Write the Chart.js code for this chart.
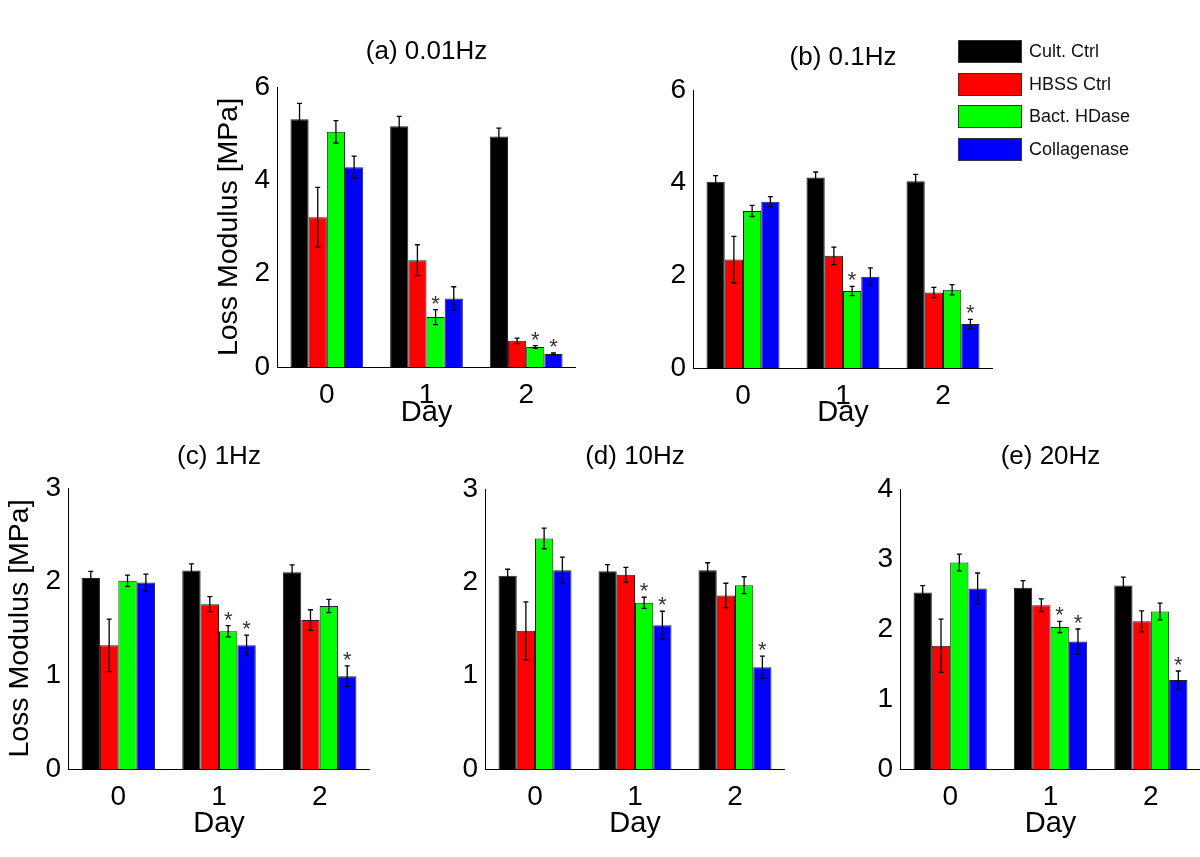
<!DOCTYPE html>
<html>
<head>
<meta charset="utf-8">
<script src="https://cdn.jsdelivr.net/npm/chart.js@4.4.1/dist/chart.umd.min.js"></script>
<style>
  body { margin: 0; background: #fff; width: 1200px; height: 857px; position: relative; overflow: hidden;
         font-family: "Liberation Sans", Arial, sans-serif; }
  .panel { position: absolute; }
  #legend { position: absolute; left: 958px; top: 40px; z-index: 5; }
  .item { display: flex; align-items: center; height: 23px; margin-bottom: 9.5px; }
  .swatch { width: 62px; height: 21px; border: 1px solid #333; margin-right: 7px; }
  .item span { font-size: 18px; color: #111; }
</style>
</head>
<body>
<div id="legend"></div>
<script>
// categories and series
const days = ['0', '1', '2'];
const seriesNames = ['Cult. Ctrl', 'HBSS Ctrl', 'Bact. HDase', 'Collagenase'];
const seriesColors = ['#000000', '#ff0000', '#00ff00', '#0000ff'];

// values per panel: rows = series (Cult, HBSS, Bact, Coll), cols = day 0,1,2
const valsA = [[5.31, 5.16, 4.94], [3.21, 2.29, 0.56], [5.04, 1.07, 0.43], [4.28, 1.47, 0.28]];
const errsA = [[0.34, 0.21, 0.18], [0.64, 0.33, 0.06], [0.24, 0.16, 0.03], [0.24, 0.25, 0.02]];
const starsA = [[2, 1], [2, 2], [3, 2]];

const valsB = [[4.02, 4.11, 4.03], [2.34, 2.42, 1.63], [3.39, 1.66, 1.69], [3.59, 1.97, 0.95]];
const errsB = [[0.13, 0.12, 0.15], [0.50, 0.19, 0.11], [0.12, 0.10, 0.11], [0.11, 0.19, 0.10]];
const starsB = [[2, 1], [3, 2]];

const valsC = [[2.04, 2.12, 2.10], [1.32, 1.76, 1.59], [2.01, 1.47, 1.74], [1.99, 1.32, 0.99]];
const errsC = [[0.07, 0.07, 0.08], [0.28, 0.08, 0.11], [0.06, 0.06, 0.07], [0.09, 0.11, 0.11]];
const starsC = [[2, 1], [3, 1], [3, 2]];

const valsD = [[2.07, 2.12, 2.13], [1.48, 2.08, 1.86], [2.47, 1.78, 1.97], [2.13, 1.54, 1.09]];
const errsD = [[0.07, 0.07, 0.08], [0.31, 0.08, 0.13], [0.11, 0.06, 0.09], [0.14, 0.15, 0.12]];
const starsD = [[2, 1], [3, 1], [3, 2]];

const valsE = [[2.52, 2.59, 2.62], [1.76, 2.34, 2.11], [2.95, 2.03, 2.25], [2.58, 1.82, 1.27]];
const errsE = [[0.10, 0.10, 0.12], [0.38, 0.09, 0.15], [0.12, 0.08, 0.12], [0.22, 0.18, 0.13]];
const starsE = [[2, 1], [3, 1], [3, 2]];

const FAMILY = '"Liberation Sans", Arial, sans-serif';
const PL = 66, TA = 70, XB = 80, RP = 8;

// error bars + significance stars, drawn through the chart's own scales
function errorPlugin(errs, stars) {
  return {
    id: 'errorBars',
    afterDatasetsDraw(chart) {
      const ctx = chart.ctx;
      const ys = chart.scales.y;
      ctx.save();
      ctx.strokeStyle = '#000';
      ctx.lineWidth = 1.3;
      chart.data.datasets.forEach((ds, i) => {
        chart.getDatasetMeta(i).data.forEach((bar, j) => {
          const v = ds.data[j], e = errs[i][j];
          const top = ys.getPixelForValue(v + e), bot = ys.getPixelForValue(v - e);
          ctx.beginPath();
          ctx.moveTo(bar.x, top); ctx.lineTo(bar.x, bot);
          ctx.moveTo(bar.x - 2.5, top); ctx.lineTo(bar.x + 2.5, top);
          ctx.moveTo(bar.x - 2.5, bot); ctx.lineTo(bar.x + 2.5, bot);
          ctx.stroke();
        });
      });
      ctx.fillStyle = '#333';
      ctx.font = '22px ' + FAMILY;
      ctx.textAlign = 'center';
      ctx.textBaseline = 'alphabetic';
      stars.forEach(([i, j]) => {
        const bar = chart.getDatasetMeta(i).data[j];
        const top = ys.getPixelForValue(chart.data.datasets[i].data[j] + errs[i][j]);
        ctx.fillText('*', bar.x, top + 1);
      });
      ctx.restore();
    }
  };
}

function makePanel(box, title, vals, errs, stars, yMax, yStep, yTitle) {
  const div = document.createElement('div');
  div.className = 'panel';
  div.style.left = (box.left - PL) + 'px';
  div.style.top = (box.top - TA) + 'px';
  const canvas = document.createElement('canvas');
  canvas.width = PL + box.width + RP;
  canvas.height = TA + box.height + XB;
  div.appendChild(canvas);
  document.body.appendChild(div);

  const titleLH = 26 * 1.2;
  const titlePadTop = TA - (box.top - box.titleY) - titleLH / 2;
  const dayLH = 29 * 1.2;
  const yLH = 28.5 * 1.2;

  new Chart(canvas, {
    type: 'bar',
    data: {
      labels: days,
      datasets: seriesNames.map((name, i) => ({
        label: name,
        data: vals[i],
        backgroundColor: seriesColors[i],
        borderColor: '#222',
        borderWidth: 1
      }))
    },
    options: {
      responsive: false,
      animation: false,
      layout: { padding: 0 },
      datasets: { bar: { categoryPercentage: 0.73, barPercentage: 1 } },
      plugins: {
        legend: { display: false },
        tooltip: { enabled: false },
        title: {
          display: true,
          text: title,
          fullSize: false,
          color: '#000',
          font: { family: FAMILY, size: 26, weight: 'normal' },
          padding: { top: titlePadTop, bottom: TA - titleLH - titlePadTop }
        }
      },
      scales: {
        x: {
          grid: { display: false, drawTicks: false },
          border: { color: '#000', width: 1 },
          ticks: { color: '#000', padding: 11, font: { family: FAMILY, size: 28 } },
          title: {
            display: true, text: 'Day', color: '#000',
            font: { family: FAMILY, size: 29 },
            padding: { top: 0, bottom: XB - box.dayGap - dayLH / 2 }
          },
          afterFit(s) { s.height = XB; }
        },
        y: {
          min: 0, max: yMax,
          grid: { display: false, drawTicks: false },
          border: { color: '#000', width: 1 },
          ticks: { stepSize: yStep, color: '#000', padding: 7, font: { family: FAMILY, size: 28 } },
          title: {
            display: yTitle, text: 'Loss Modulus [MPa]', color: '#000',
            font: { family: FAMILY, size: 28.5 },
            padding: { top: PL - 47.5 - yLH / 2, bottom: 0 }
          },
          afterFit(s) { s.width = PL; }
        }
      }
    },
    plugins: [errorPlugin(errs, stars)]
  });
}

makePanel({ left: 277, top: 87, width: 291, height: 280, titleY: 52, dayGap: 46 }, '(a) 0.01Hz', valsA, errsA, starsA, 6, 2, true);
makePanel({ left: 693, top: 90, width: 292, height: 278, titleY: 58, dayGap: 45 }, '(b) 0.1Hz', valsB, errsB, starsB, 6, 2, false);
makePanel({ left: 68, top: 488, width: 294, height: 281, titleY: 457, dayGap: 55 }, '(c) 1Hz', valsC, errsC, starsC, 3, 1, true);
makePanel({ left: 485, top: 489, width: 292, height: 280, titleY: 457, dayGap: 55 }, '(d) 10Hz', valsD, errsD, starsD, 3, 1, false);
makePanel({ left: 900, top: 489, width: 293, height: 280, titleY: 457, dayGap: 55 }, '(e) 20Hz', valsE, errsE, starsE, 4, 1, false);

// legend built from the series arrays
const legend = document.getElementById('legend');
seriesNames.forEach((name, i) => {
  const item = document.createElement('div');
  item.className = 'item';
  const sw = document.createElement('div');
  sw.className = 'swatch';
  sw.style.background = seriesColors[i];
  const label = document.createElement('span');
  label.textContent = name;
  item.appendChild(sw);
  item.appendChild(label);
  legend.appendChild(item);
});
</script>
</body>
</html>
